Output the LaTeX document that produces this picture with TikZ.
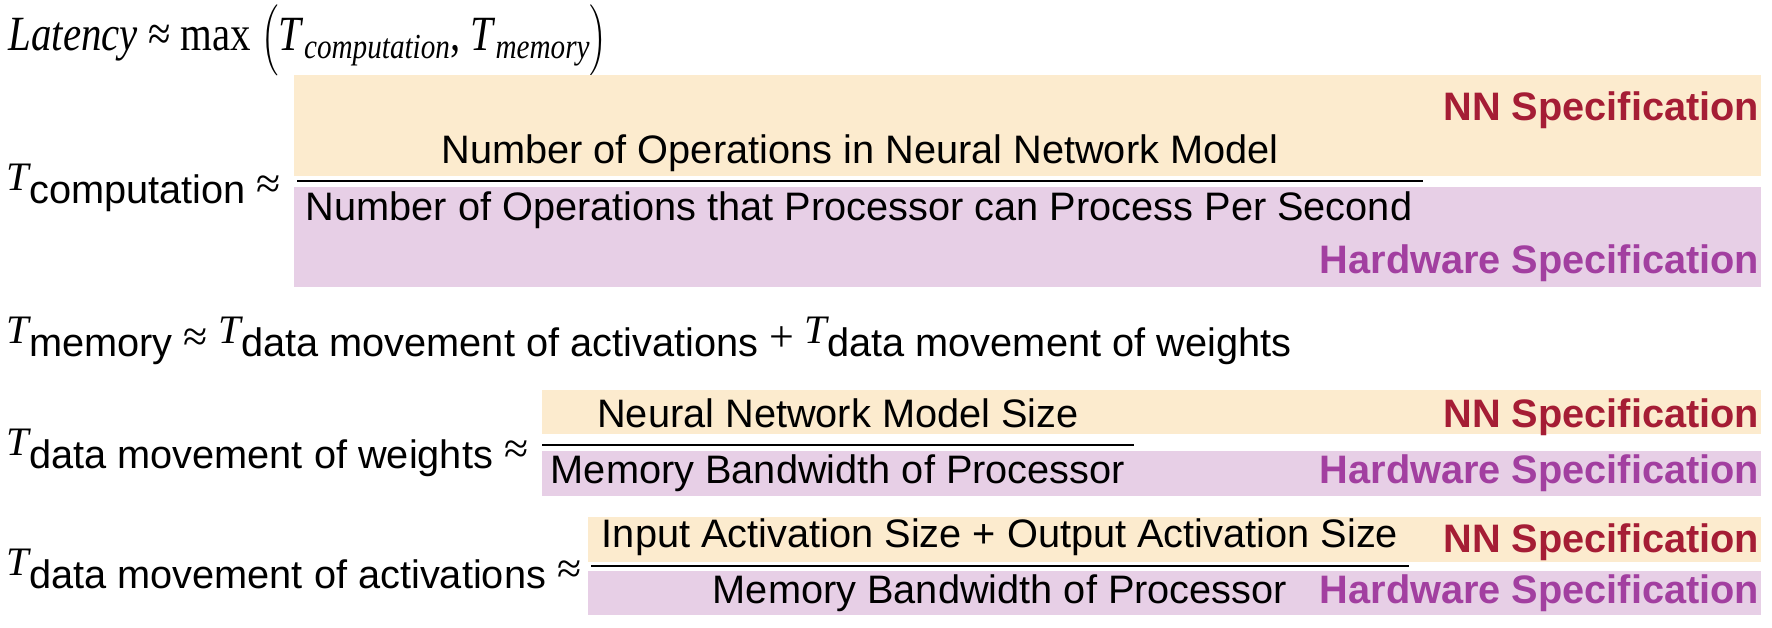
\documentclass[tikz,border=0pt]{standalone}
\usepackage{fontspec}
\usepackage{graphicx}
\setmainfont{Liberation Serif}
\setsansfont{Liberation Sans}
\newfontfamily\tms{Liberation Serif}
\usetikzlibrary{positioning}
\definecolor{nnFill}{HTML}{FCEBCE}
\definecolor{hwFill}{HTML}{E7CFE6}
\definecolor{nnRed}{HTML}{A51D35}
\definecolor{hwPurple}{HTML}{A23FA0}

\newcommand{\Tsub}[1]{{\tms\itshape\fontsize{11.5}{12}\selectfont T}\raisebox{-3.8pt}{#1}}
\newcommand{\apx}{{\tms\fontsize{12.5}{12}\selectfont\ \raisebox{-2.5pt}{≈}\ }}
\newcommand{\plusop}{{\tms\fontsize{12.5}{12}\selectfont\ \raisebox{-2.5pt}{+}\ }}
\newcommand{\Lsub}[1]{\textit{T}\raisebox{-2.3pt}{\fontsize{10}{10}\selectfont\textit{#1}}}
\newcommand{\bigpar}[1]{\scalebox{1}[1.12]{\fontsize{10}{10}\selectfont$\Big#1$}}

\begin{document}
\begin{tikzpicture}[
  x=0.01cm, y=-0.01cm,
  every node/.style={inner sep=0pt, font=\sffamily\fontsize{11.3}{13}\selectfont},
  nnbox/.style={fill=nnFill},
  hwbox/.style={fill=hwFill},
  fracline/.style={line width=0.8pt},
  eqn/.style={anchor=base west},
  frac/.style={anchor=base},
  nnlab/.style={anchor=base east, text=nnRed,
    font=\sffamily\bfseries\fontsize{11.3}{13}\selectfont},
  hwlab/.style={anchor=base east, text=hwPurple,
    font=\sffamily\bfseries\fontsize{11.3}{13}\selectfont},
]
\useasboundingbox (0,0) rectangle (1772,627);

% Latency
\node[eqn, font=\tms\fontsize{14}{14}\selectfont] (lat) at (8,50)
  {\scalebox{0.83}[1]{\textit{Latency} ≈ max \bigpar{(}\Lsub{computation},
   \Lsub{memory}\bigpar{)}}};

% T computation
\fill[nnbox] (294,75) rectangle (1761,176);
\fill[hwbox] (294,187) rectangle (1761,287);
\draw[fracline] (297,181) -- (1423,181);
\node[eqn] (tcomp) at (6,190) {\Tsub{computation}\apx};
\node[frac] (num1) at (860,163) {Number of Operations in Neural Network Model};
\node[frac] (den1) at (859,220) {Number of Operations that Processor can Process Per Second};
\node[nnlab] (nn1) at (1760,120) {NN Specification};
\node[hwlab] (hw1) at (1760,273) {Hardware Specification};

% T memory
\node[eqn] (tmem) at (6,343)
  {\Tsub{memory}\apx\Tsub{data movement of activations}\plusop\Tsub{data movement of weights}};

% weights
\fill[nnbox] (542,390) rectangle (1761,434);
\fill[hwbox] (542,451) rectangle (1761,496);
\draw[fracline] (542,445) -- (1134,445);
\node[eqn] (tw) at (6,455) {\Tsub{data movement of weights}\apx};
\node[frac] (num2) at (838,427) {Neural Network Model Size};
\node[frac] (den2) at (838,483) {Memory Bandwidth of Processor};
\node[nnlab] (nn2) at (1760,427) {NN Specification};
\node[hwlab] (hw2) at (1760,483) {Hardware Specification};

% activations
\fill[nnbox] (588,517) rectangle (1761,562);
\fill[hwbox] (588,571) rectangle (1761,615);
\draw[fracline] (591,566) -- (1409,566);
\node[eqn] (ta) at (6,575) {\Tsub{data movement of activations}\apx};
\node[frac] (num3) at (1000,547) {Input Activation Size + Output Activation Size};
\node[frac] (den3) at (1000,603) {Memory Bandwidth of Processor};
\node[nnlab] (nn3) at (1760,552) {NN Specification};
\node[hwlab] (hw3) at (1760,603) {Hardware Specification};

\end{tikzpicture}
\end{document}
